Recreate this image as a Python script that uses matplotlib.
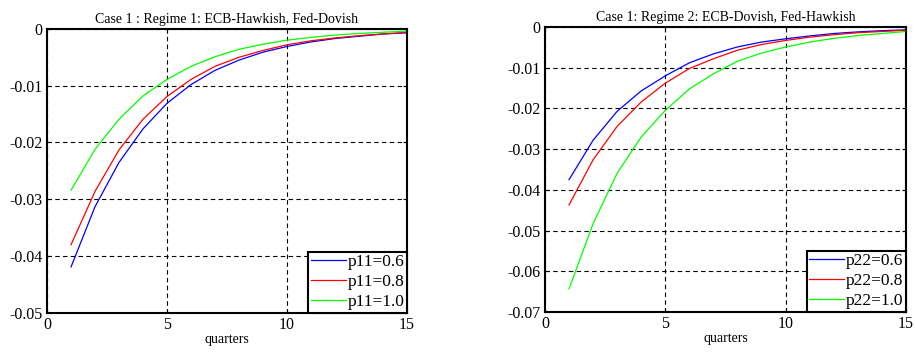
import numpy as np
import matplotlib
matplotlib.use("Agg")
import matplotlib.pyplot as plt

plt.rcParams['font.family'] = ['Liberation Serif', 'DejaVu Serif']

quarters = np.arange(1, 16)

# regime 1 responses
r1_p06 = [-0.0419, -0.0313, -0.0235, -0.0176, -0.0131, -0.0098, -0.0073, -0.0055,
          -0.0041, -0.0031, -0.0023, -0.0017, -0.0013, -0.0009, -0.0007]
r1_p08 = [-0.0380, -0.0286, -0.0213, -0.0159, -0.0119, -0.0089, -0.0066, -0.0050,
          -0.0038, -0.0028, -0.0021, -0.0016, -0.0012, -0.0009, -0.0006]
r1_p10 = [-0.0284, -0.0212, -0.0159, -0.0118, -0.0089, -0.0066, -0.0049, -0.0036,
          -0.0027, -0.0020, -0.0015, -0.0011, -0.0008, -0.0006, -0.0004]

# regime 2 responses
r2_p06 = [-0.0375, -0.0278, -0.0207, -0.0157, -0.0120, -0.0088, -0.0066, -0.0049,
          -0.0037, -0.0029, -0.0022, -0.0016, -0.0012, -0.0009, -0.0007]
r2_p08 = [-0.0437, -0.0326, -0.0244, -0.0184, -0.0138, -0.0102, -0.0078, -0.0057,
          -0.0043, -0.0033, -0.0025, -0.0019, -0.0014, -0.0011, -0.0008]
r2_p10 = [-0.0643, -0.0483, -0.0359, -0.0270, -0.0205, -0.0152, -0.0115, -0.0084,
          -0.0064, -0.0049, -0.0037, -0.0028, -0.0021, -0.0016, -0.0011]

labels1 = ['p11=0.6', 'p11=0.8', 'p11=1.0']
labels2 = ['p22=0.6', 'p22=0.8', 'p22=1.0']
colors = ['#0000ff', '#ff0000', '#00ff00']


def draw(ax, series, labels, title, ylim, yticks):
    for y, lab, c in zip(series, labels, colors):
        ax.plot(quarters, y, color=c, lw=0.9, label=lab)
    ax.set_xlim(0, 15)
    ax.set_ylim(*ylim)
    ax.set_xticks([0, 5, 10, 15])
    ax.set_yticks(yticks)
    ax.set_yticklabels(['0' if t == 0 else ('%g' % t) for t in yticks])
    ax.grid(True, color='black', linestyle=(0, (4, 3)), lw=0.8)
    ax.tick_params(direction='in', top=True, right=True, labelsize=11.5, length=3, pad=3)
    for s in ax.spines.values():
        s.set_linewidth(1.5)
    ax.set_title(title, fontsize=10, pad=4)
    ax.set_xlabel('quarters', fontsize=10, labelpad=0)
    leg = ax.legend(loc='lower right', fontsize=12.5, fancybox=False, framealpha=1,
                    edgecolor='black', borderaxespad=0, handlelength=2.0,
                    handletextpad=0.1, labelspacing=0.22, borderpad=0.15)
    leg.get_frame().set_linewidth(1.5)


fig = plt.figure(figsize=(9.15, 3.52), dpi=100)
ax1 = fig.add_axes([0.0514, 0.111, 0.3934, 0.807])
ax2 = fig.add_axes([0.5956, 0.1136, 0.3945, 0.8097])

draw(ax1, [r1_p06, r1_p08, r1_p10], labels1,
     'Case 1 : Regime 1: ECB-Hawkish, Fed-Dovish', (-0.05, 0),
     [-0.05, -0.04, -0.03, -0.02, -0.01, 0])
draw(ax2, [r2_p06, r2_p08, r2_p10], labels2,
     'Case 1: Regime 2: ECB-Dovish, Fed-Hawkish', (-0.07, 0),
     [-0.07, -0.06, -0.05, -0.04, -0.03, -0.02, -0.01, 0])

fig.savefig('out.png', dpi=100)
